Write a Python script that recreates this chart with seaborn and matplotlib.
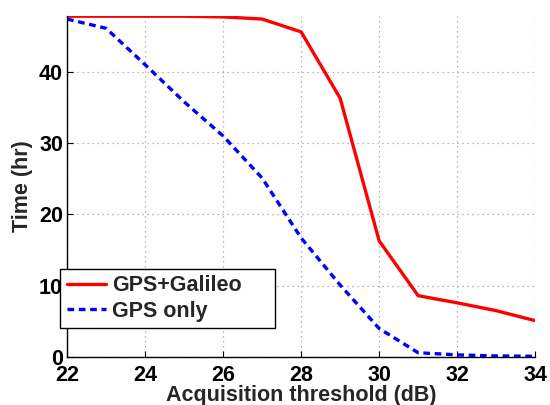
import numpy as np
import pandas as pd
import matplotlib
matplotlib.use("Agg")
import matplotlib.pyplot as plt
import seaborn as sns

thresholds = [22, 23, 24, 25, 26, 27, 28, 29, 30, 31, 32, 33, 34]
gps_galileo = [47.8, 47.8, 47.8, 47.8, 47.7, 47.4, 45.6, 36.3, 16.3, 8.6, 7.6, 6.5, 5.1]
gps_only = [47.4, 46.1, 41.0, 35.8, 31.0, 25.1, 16.7, 10.1, 4.0, 0.6, 0.3, 0.15, 0.1]
series_names = ["GPS+Galileo", "GPS only"]
x_ticks = [22, 24, 26, 28, 30, 32, 34]
y_ticks = [0, 10, 20, 30, 40]

df = pd.DataFrame({
    "thr": thresholds * 2,
    "time": gps_galileo + gps_only,
    "system": [series_names[0]] * len(thresholds) + [series_names[1]] * len(thresholds),
})

sns.set_style("white")
plt.rcParams["font.family"] = ["Liberation Sans", "DejaVu Sans"]
plt.rcParams["font.weight"] = "bold"

FS = 15.5
fig = plt.figure(figsize=(5.5, 4.05), dpi=100)
ax = fig.add_axes([0.122, 0.1185, 0.851, 0.8415])

sns.lineplot(data=df, x="thr", y="time", hue="system", style="system",
             palette={series_names[0]: "#ff0000", series_names[1]: "#0000ff"},
             dashes={series_names[0]: "", series_names[1]: (2, 1.4)},
             linewidth=2.4, ax=ax)

ax.set_xlim(22, 34)
ax.set_ylim(0, 47.8)
ax.set_xticks(x_ticks)
ax.set_yticks(y_ticks)
ax.grid(True, linestyle=(0, (1, 3)), color="#a0a0a0", linewidth=0.9)
for s in ["top", "right"]:
    ax.spines[s].set_visible(False)
for s in ["left", "bottom"]:
    ax.spines[s].set_color("black")
    ax.spines[s].set_linewidth(1.0)
ax.tick_params(direction="in", length=4, width=0.8, labelsize=FS, pad=3,
               bottom=True, left=True, colors="black")
ax.tick_params(axis="x", pad=6)
for lab in ax.get_xticklabels() + ax.get_yticklabels():
    lab.set_fontweight("bold")
ax.set_xlabel("Acquisition threshold (dB)", fontsize=FS, fontweight="bold", labelpad=-1)
ax.set_ylabel("Time (hr)", fontsize=FS, fontweight="bold", labelpad=4)

leg = ax.legend(loc="lower left", bbox_to_anchor=(-0.015, 0.085, 0.459, 0.16),
                mode="expand", borderaxespad=0,
                fancybox=False, frameon=True, edgecolor="black",
                handlelength=1.85, handletextpad=0.25, borderpad=0.3, labelspacing=0.2,
                prop={"weight": "bold", "size": FS})
leg.get_frame().set_linewidth(1.0)
leg.get_frame().set_alpha(1)

fig.savefig("out.png", dpi=100)
